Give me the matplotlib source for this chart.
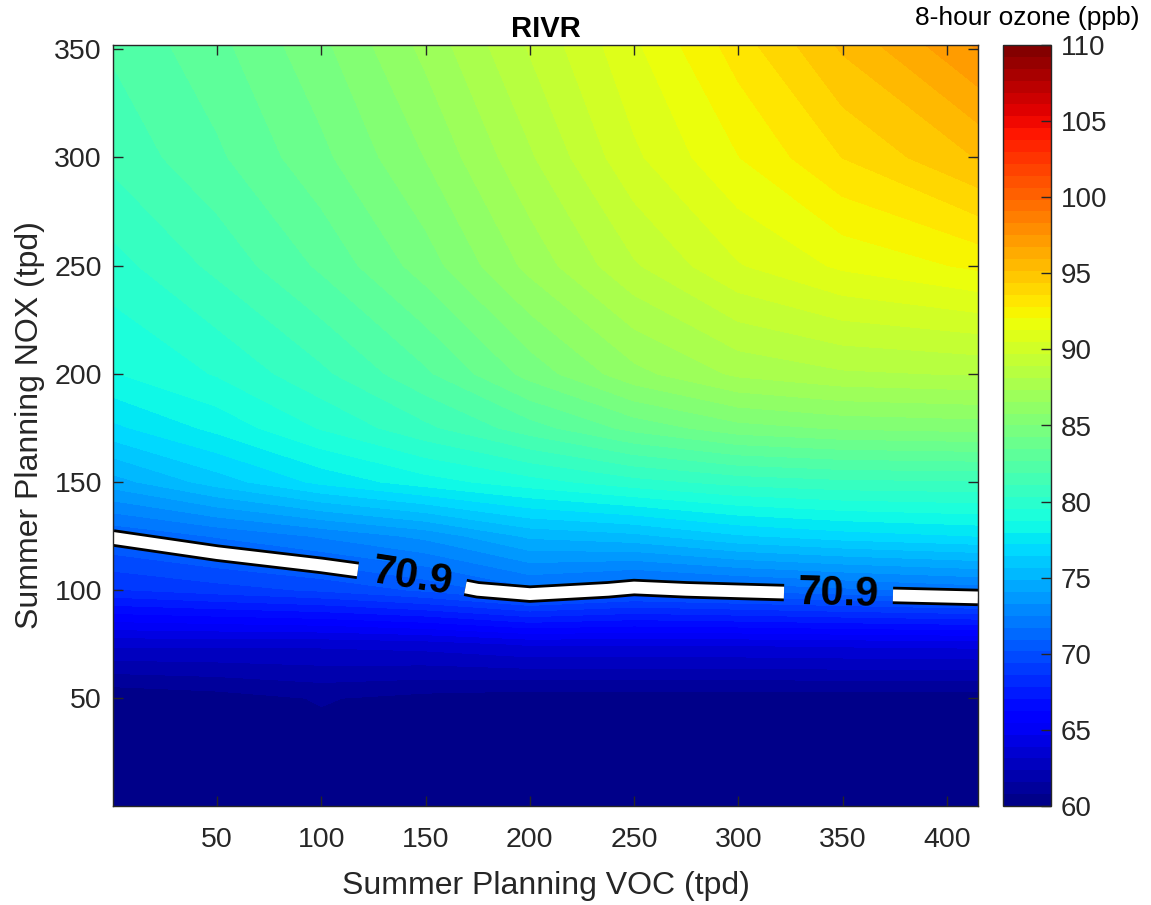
import numpy as np
import matplotlib
matplotlib.use("Agg")
import matplotlib.pyplot as plt
import matplotlib.patheffects as pe

plt.rcParams['font.family'] = ['Liberation Sans', 'DejaVu Sans']

# ---- data ----
voc = [0, 50, 100, 150, 200, 250, 300, 350, 415]          # Summer Planning VOC (tpd)
nox = [0, 25, 50, 75, 100, 125, 150, 175, 200, 250, 300, 352]  # Summer Planning NOX (tpd)

oz_nox000 = [60.2, 60.2, 60.2, 60.2, 60.2, 60.2, 60.2, 60.2, 60.2]
oz_nox025 = [60.3, 60.3, 60.4, 60.3, 60.3, 60.3, 60.3, 60.3, 60.3]
oz_nox050 = [60.1, 60.4, 60.85, 60.5, 60.3, 60.3, 60.3, 60.3, 60.3]
oz_nox075 = [63.3, 63.3, 63.3, 63.5, 64.0, 64.0, 64.0, 64.1, 64.2]
oz_nox100 = [68.5, 69.0, 69.5, 70.3, 71.5, 70.7, 71.1, 71.5, 72.0]
oz_nox125 = [71.0, 71.8, 72.6, 73.5, 75.0, 75.4, 76.3, 76.8, 77.2]
oz_nox150 = [74.5, 76.0, 77.4, 78.4, 79.2, 80.0, 80.6, 80.9, 81.0]
oz_nox175 = [77.0, 78.2, 79.6, 80.9, 82.3, 83.7, 84.7, 85.1, 85.3]
oz_nox200 = [78.7, 79.6, 80.9, 82.5, 84.5, 86.3, 87.5, 88.0, 88.2]
oz_nox250 = [80.0, 81.3, 82.8, 84.6, 86.8, 88.8, 90.4, 91.4, 92.2]
oz_nox300 = [81.3, 82.5, 84.0, 85.8, 88.0, 90.3, 92.0, 93.6, 95.2]
oz_nox352 = [82.0, 83.2, 84.8, 86.8, 89.0, 91.1, 93.2, 95.3, 97.6]

threshold = 70.9
xticks = [50, 100, 150, 200, 250, 300, 350, 400]
yticks = [50, 100, 150, 200, 250, 300, 350]
cticks = [60, 65, 70, 75, 80, 85, 90, 95, 100, 105, 110]
title = "RIVR"
xlabel = "Summer Planning VOC (tpd)"
ylabel = "Summer Planning NOX (tpd)"
clabel_txt = "8-hour ozone (ppb)"

Z = np.array([oz_nox000, oz_nox025, oz_nox050, oz_nox075, oz_nox100, oz_nox125,
              oz_nox150, oz_nox175, oz_nox200, oz_nox250, oz_nox300, oz_nox352])
X, Y = np.meshgrid(voc, nox)

W, H = 1151, 905
fig = plt.figure(figsize=(W / 100, H / 100), dpi=100)
ax = fig.add_axes([113 / W, 1 - 806 / H, (978 - 113) / W, (806 - 45) / H])
cax = fig.add_axes([1003 / W, 1 - 806 / H, (1051 - 1003) / W, (806 - 45) / H])

levels = np.linspace(60, 110, 65)
cf = ax.contourf(X, Y, Z, levels=levels, cmap='jet', vmin=60, vmax=110)
cf.set_edgecolor('face')
cf.set_linewidth(0.4)

cs = ax.contour(X, Y, Z, levels=[threshold], colors='white', linewidths=8.5)
cs.set_path_effects([pe.Stroke(linewidth=12.5, foreground='black'), pe.Normal()])
lbls = ax.clabel(cs, fmt='%.1f', fontsize=30, inline=True, inline_spacing=14,
                 manual=[(143, 103), (348, 96)], colors='black')
for t in lbls:
    t.set_fontweight('bold')

ax.set_xlim(0, 415)
ax.set_ylim(0, 352)
ax.set_xticks(xticks)
ax.set_yticks(yticks)
axcol = (0.15, 0.15, 0.15)
ax.tick_params(direction='in', top=True, right=True, length=7, width=1.0,
               labelsize=20.5, colors=axcol)
ax.tick_params(axis='x', pad=15)
ax.tick_params(axis='y', pad=8)
for s in ax.spines.values():
    s.set_color(axcol)
    s.set_linewidth(1.0)
ax.set_xlabel(xlabel, fontsize=23, color=axcol, labelpad=13)
ax.set_ylabel(ylabel, fontsize=23, color=axcol, labelpad=7)
ax.set_title(title, fontsize=21, fontweight='bold', color='black', pad=6)

cb = fig.colorbar(cf, cax=cax, ticks=cticks)
cb.ax.tick_params(direction='in', length=7, width=1.0, labelsize=20, colors=axcol, pad=7)
cb.outline.set_edgecolor(axcol)
cb.outline.set_linewidth(1.0)
fig.text(1027 / W, 1 - 18 / H, clabel_txt, fontsize=19, color='black',
         ha='center', va='center')

fig.savefig('out.png', dpi=100)
